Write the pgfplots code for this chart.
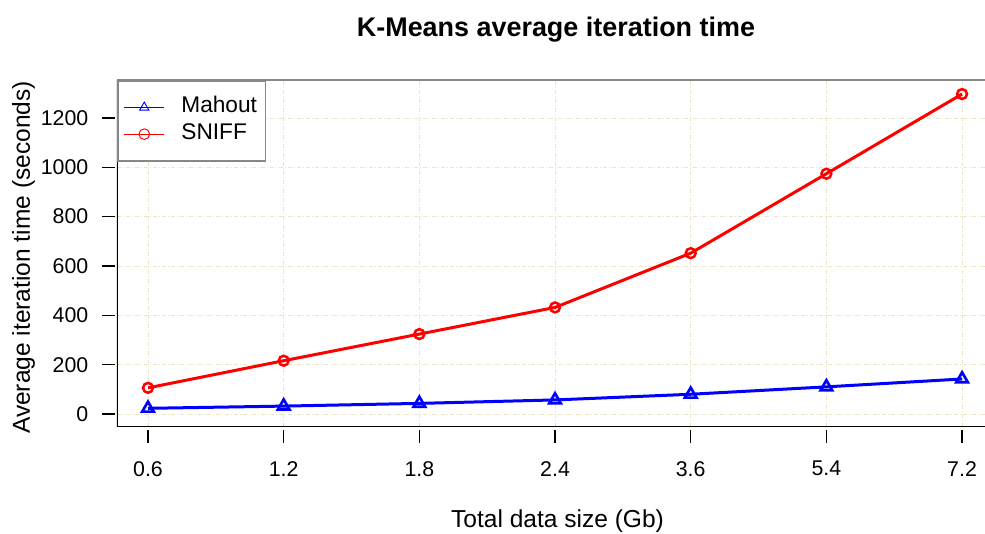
\documentclass[border=0pt]{standalone}
\usepackage{pgfplots}
\pgfplotsset{compat=1.18}
\usepackage{fontspec}
\setmainfont{Liberation Sans}
\definecolor{gridc}{RGB}{236,228,198}
\definecolor{topgray}{RGB}{135,135,135}
\begin{document}
\begin{tikzpicture}
\begin{axis}[
  scale only axis, width=651pt, height=260.25pt,
  xmin=-0.2285, xmax=6.169, ymin=-52.7, ymax=1354,
  axis line style={draw=none},
  xtick={0,1,2,3,4,5,6}, xticklabels={0.6,1.2,1.8,2.4,3.6,5.4,7.2},
  ytick={0,200,400,600,800,1000,1200},
  xtick pos=bottom, ytick pos=left,
  tick align=outside, major tick length=9.75pt,
  every x tick/.style={black, line width=0.9pt, yshift=-2.25pt},
  every y tick/.style={black, line width=0.9pt, xshift=-1.5pt},
  tick label style={font=\fontsize{16}{19}\selectfont},
  xticklabel style={yshift=-12.4pt},
  yticklabel style={xshift=-8.25pt},
  /pgf/number format/assume math mode=true,
  /pgf/number format/1000 sep={},
  xmajorgrids, ymajorgrids,
  major grid style={color=gridc, line width=0.7pt, dash pattern=on 3pt off 1.5pt on 0.75pt off 1.5pt},
  title={K-Means average iteration time},
  every axis title/.style={at={(rel axis cs:0.5,1)}, anchor=base, yshift=32.25pt, xshift=3.75pt, font=\fontsize{20.2}{24}\selectfont\bfseries},
  xlabel={Total data size (Gb)},
  ylabel={Average iteration time (seconds)},
  every axis x label/.style={at={(rel axis cs:0.5,0)}, anchor=base, yshift=-75.75pt, xshift=4.9pt, font=\fontsize{18.4}{22}\selectfont},
  every axis y label/.style={at={(rel axis cs:0,0.5)}, xshift=-65.25pt, yshift=-3pt, rotate=90, anchor=base, font=\fontsize{18.4}{22}\selectfont},
  legend cell align=left,
  legend style={at={(rel axis cs:0,1)}, anchor=north west, draw=topgray, line width=1.2pt, fill=white,
    font=\fontsize{17}{20}\selectfont, inner xsep=4.5pt, inner ysep=10pt, row sep=0pt,
    nodes={inner sep=2pt, text height=12pt, text depth=4pt},
    /tikz/every odd column/.append style={column sep=10.5pt}},
  legend image code/.code={\draw[#1, line width=0.7pt, mark size=4pt, mark repeat=2, mark phase=2, mark options={solid, line width=0.7pt}] plot coordinates {(0pt,0pt) (15pt,0pt) (30pt,0pt)};},
]
\draw[black, line width=1.5pt] (rel axis cs:0,1) -- (rel axis cs:0,0) -- (rel axis cs:1,0);
\draw[topgray, line width=1.7pt] (rel axis cs:0,1) -- (rel axis cs:1,1);
\coordinate (bl) at (rel axis cs:0,0);
\coordinate (tr) at (rel axis cs:1,1);
\addplot[blue, line width=2.25pt, mark=triangle, mark size=5pt, mark options={solid, line width=2pt}]
  coordinates {(0,23) (1,32) (2,43) (3,57) (4,80) (5,110) (6,142)};
\addplot[red, line width=2.25pt, mark=o, mark size=3.7pt, mark options={solid, line width=1.9pt}]
  coordinates {(0,106) (1,216) (2,324) (3,432) (4,652) (5,974) (6,1297)};
\legend{Mahout, SNIFF}
\end{axis}
\pgfresetboundingbox
\path ([xshift=-87.75pt,yshift=-80.25pt]bl) rectangle ([yshift=60pt]tr);
\end{tikzpicture}
\end{document}
